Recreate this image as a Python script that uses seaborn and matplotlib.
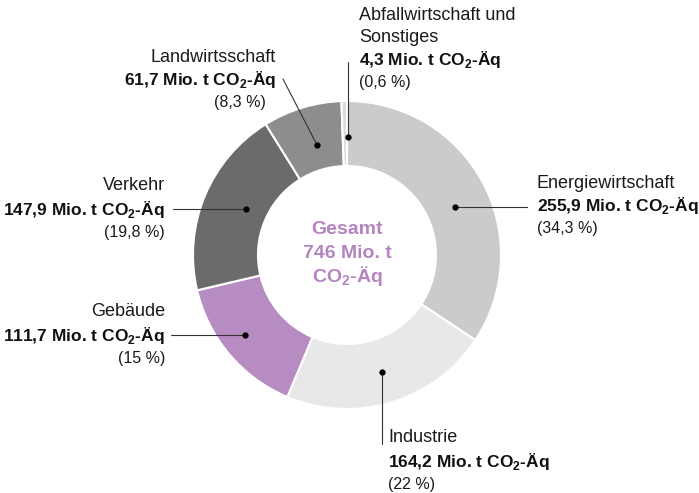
import numpy as np
import pandas as pd
import matplotlib
matplotlib.use("Agg")
import matplotlib.pyplot as plt
import seaborn as sns

# ---- data ----
categories = ["Energiewirtschaft", "Industrie", "Gebäude", "Verkehr",
              "Landwirtsschaft", "Abfallwirtschaft und\nSonstiges"]
values = [255.9, 164.2, 111.7, 147.9, 61.7, 4.3]
percents = ["34,3", "22", "15", "19,8", "8,3", "0,6"]
total_label = "746"
colors = ["#cbcbcb", "#e8e8e8", "#b78cc2", "#6b6b6b", "#8d8d8d", "#dcdcdc"]

df = pd.DataFrame({"cat": categories, "val": values, "pct": percents, "col": colors})

sns.set_theme(style="white")
plt.rcParams["font.family"] = ["Liberation Sans", "DejaVu Sans"]
plt.rcParams["mathtext.fontset"] = "custom"
plt.rcParams["mathtext.rm"] = "Liberation Sans"
plt.rcParams["mathtext.bf"] = "Liberation Sans:bold"

W, H = 699, 493
fig = plt.figure(figsize=(W / 100, H / 100), dpi=100)
ax = fig.add_axes([0, 0, 1, 1])

def Y(y):  # image-pixel y -> axes y
    return H - y

cx, cy = 347, Y(255)
R, r_in = 154, 89

ax.pie(df["val"], colors=df["col"], startangle=90, counterclock=False,
       radius=R, center=(cx, cy), frame=True,
       wedgeprops=dict(width=R - r_in, edgecolor="white", linewidth=1.5))
ax.set_xlim(0, W)
ax.set_ylim(0, H)
ax.set_aspect("auto")
ax.axis("off")

purple = "#b484c1"
ax.text(cx, Y(230), "Gesamt", ha="center", va="center", fontsize=14,
        fontweight="bold", color=purple)
ax.text(cx, Y(253), f"{total_label} Mio. t", ha="center", va="center", fontsize=14,
        fontweight="bold", color=purple)
ax.text(cx, Y(276), r"CO$_\mathbf{2}$-Äq", ha="center", va="center", fontsize=14,
        fontweight="bold", color=purple)

# ---- label layout (image pixel coords) ----
# text x, align, y of name lines, y of value line, y/x of percent line, leader path
layout = [
    dict(x=537, ha="left", name_y=[183], val_y=205, pct=(537, 228),
         line=[(455, 207), (527, 207)]),
    dict(x=388, ha="left", name_y=[438], val_y=462, pct=(388, 485),
         line=[(382, 372), (382, 444)]),
    dict(x=165, ha="right", name_y=[312], val_y=335, pct=(165, 358),
         line=[(245, 335), (171, 335)]),
    dict(x=165, ha="right", name_y=[186], val_y=209, pct=(165, 232),
         line=[(246, 209), (173, 209)]),
    dict(x=276, ha="right", name_y=[57], val_y=80, pct=(266, 103),
         line=[(317, 145), (283, 79)]),
    dict(x=359, ha="left", name_y=[15, 38], val_y=60, pct=(359, 83),
         line=[(348, 137), (348, 62)]),
]

for (_, row), lay in zip(df.iterrows(), layout):
    names = row["cat"].split("\n")
    for nm, ny in zip(names, lay["name_y"]):
        ax.text(lay["x"], Y(ny), nm, ha=lay["ha"], va="center", fontsize=13,
                color="#1a1a1a")
    vtxt = f"{row['val']:.1f}".replace(".", ",")
    ax.text(lay["x"], Y(lay["val_y"]), vtxt + r" Mio. t CO$_\mathbf{2}$-Äq",
            ha=lay["ha"], va="center", fontsize=12.5, fontweight="bold",
            color="#111111")
    ax.text(lay["pct"][0], Y(lay["pct"][1]), f"({row['pct']} %)", ha=lay["ha"],
            va="center", fontsize=11.5, color="#1a1a1a")
    (x0, y0), (x1, y1) = lay["line"]
    ax.plot([x0, x1], [Y(y0), Y(y1)], color="#333333", lw=0.8)
    ax.plot([x0], [Y(y0)], "o", color="black", ms=3.5)

fig.savefig("out.png", dpi=100, facecolor="white")
